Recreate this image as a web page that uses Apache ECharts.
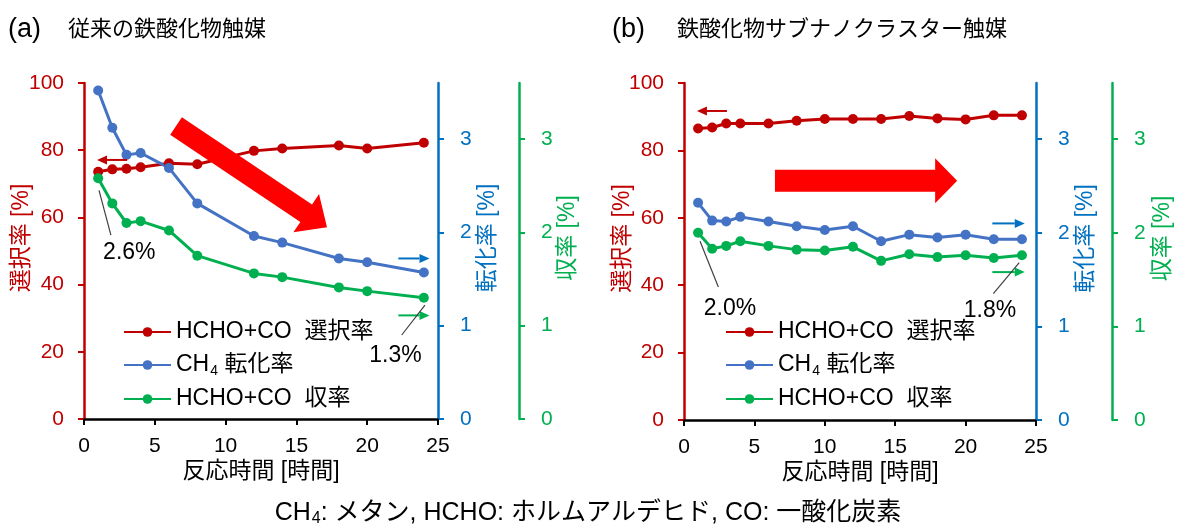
<!DOCTYPE html>
<html><head><meta charset="utf-8">
<script src="https://cdn.jsdelivr.net/npm/echarts@6/dist/echarts.min.js"></script>
<style>html,body{margin:0;padding:0;background:#fff}#c{width:1177px;height:530px}</style>
</head><body><div id="c"></div>
<script>
// ---- data ----
const timesA = [1, 2, 3, 4, 6, 8, 12, 14, 18, 20, 24];
const selectivityA = [73.6, 74.3, 74.5, 74.9, 76.1, 75.8, 79.8, 80.5, 81.4, 80.5, 82.2];
const conversionA = [3.52, 3.12, 2.83, 2.85, 2.69, 2.31, 1.96, 1.89, 1.72, 1.68, 1.57];
const yieldA = [2.58, 2.31, 2.10, 2.12, 2.02, 1.75, 1.56, 1.52, 1.41, 1.37, 1.30];

const timesB = [1, 2, 3, 4, 6, 8, 10, 12, 14, 16, 18, 20, 22, 24];
const selectivityB = [86.5, 86.8, 88.0, 88.0, 88.0, 88.8, 89.3, 89.3, 89.3, 90.2, 89.5, 89.2, 90.4, 90.4];
const conversionB = [2.32, 2.13, 2.12, 2.17, 2.12, 2.07, 2.03, 2.07, 1.91, 1.98, 1.95, 1.98, 1.93, 1.93];
const yieldB = [2.00, 1.83, 1.86, 1.91, 1.86, 1.82, 1.81, 1.85, 1.70, 1.77, 1.74, 1.76, 1.73, 1.76];

const rightTicks = [0, 1, 2, 3];
const seriesNames = ['HCHO+CO  選択率', 'CH4 転化率', 'HCHO+CO  収率'];
const titleA = ['(a)', '従来の鉄酸化物触媒'];
const titleB = ['(b)', '鉄酸化物サブナノクラスター触媒'];
const xName = '反応時間 [時間]';
const axisNames = ['選択率 [%]', '転化率 [%]', '収率 [%]'];
const labelsA = ['2.6%', '1.3%'];
const labelsB = ['2.0%', '1.8%'];

// ---- style ----
const RED = '#C00000', BLUE_AX = '#0070C0', BLUE = '#4472C4', GREEN = '#00B050', ARROW = '#FF0000';
const FF = '"Liberation Sans", Arial, "Noto Sans CJK JP", sans-serif';

const pairs = (xs, ys) => xs.map((x, i) => [x, ys[i]]);

function xAxis(g) {
  return {
    type: 'value', gridIndex: g, min: 0, max: 25, interval: 5,
    name: xName, nameLocation: 'middle', nameGap: 41, nameMoveOverlap: false,
    nameTextStyle: { color: '#000', fontSize: 23, fontFamily: FF },
    axisLine: { show: true, lineStyle: { color: '#000', width: 2.5 } },
    axisTick: { show: true, length: 6, lineStyle: { color: '#000', width: 2 } },
    axisLabel: { color: '#000', fontSize: 21, fontFamily: FF, margin: 17 },
    splitLine: { show: false }
  };
}
function yAxes(g, gaps, greenOffset) {
  const base = (color, name, gap) => ({
    type: 'value', gridIndex: g, name: name, nameLocation: 'middle', nameGap: gap, nameRotate: 90,
    nameMoveOverlap: false,
    nameTextStyle: { color: color, fontSize: 23, fontFamily: FF, padding: [0, 0, 0, 26] },
    axisLine: { show: true, lineStyle: { color: color, width: 2.5 } },
    axisTick: { show: true, length: 6, lineStyle: { color: color, width: 2 } },
    axisLabel: { color: color, fontSize: 21, fontFamily: FF },
    splitLine: { show: false }
  });
  const red = base(RED, axisNames[0], gaps[0]);
  Object.assign(red, { position: 'left', min: 0, max: 100, interval: 20 });
  red.axisLabel.margin = 20;
  const blue = base(BLUE_AX, axisNames[1], gaps[1]);
  Object.assign(blue, { position: 'right', offset: 0, min: 0, max: 3.6, interval: 1 });
  blue.axisLabel.margin = 22; blue.axisLabel.customValues = rightTicks; blue.axisTick.customValues = rightTicks;
  const green = base(GREEN, axisNames[2], gaps[2]);
  Object.assign(green, { position: 'right', offset: greenOffset, min: 0, max: 3.6, interval: 1 });
  green.axisLabel.margin = 22; green.axisLabel.customValues = rightTicks; green.axisTick.customValues = rightTicks;
  return [red, blue, green];
}
function lineSeries(name, g, yi, data, color) {
  return {
    type: 'line', name: name, xAxisIndex: g, yAxisIndex: yi, data: data,
    symbol: 'circle', symbolSize: 10, showSymbol: true,
    lineStyle: { color: color, width: 3 }, itemStyle: { color: color },
    emphasis: { disabled: true }, animation: false
  };
}
function legend(left) {
  return {
    left: left, top: 320, orient: 'vertical', padding: 0, itemWidth: 47, itemHeight: 12, itemGap: 9,
    data: seriesNames, selectedMode: false,
    formatter: n => n.startsWith('CH4') ? '{a|CH}{s|4}{a|' + n.slice(3) + '}' : '{a|' + n + '}',
    textStyle: {
      color: '#000', fontSize: 23, fontFamily: FF, lineHeight: 24,
      rich: { a: { fontSize: 23, fontFamily: FF, color: '#000' }, s: { fontSize: 14, fontFamily: FF, color: '#000', padding: [12, 0, 0, 1] } }
    }
  };
}

const chart = echarts.init(document.getElementById('c'), null, { renderer: 'canvas' });
chart.setOption({
  backgroundColor: '#fff',
  animation: false,
  grid: [
    { left: 84, top: 83, width: 354, height: 336 },
    { left: 684, top: 83, width: 352, height: 337 }
  ],
  xAxis: [xAxis(0), xAxis(1)],
  yAxis: yAxes(0, [51, 38, 37], 81).concat(yAxes(1, [50, 38, 39], 76)),
  legend: [legend(123), legend(725)],
  series: [
    lineSeries(seriesNames[0], 0, 0, pairs(timesA, selectivityA), RED),
    lineSeries(seriesNames[1], 0, 1, pairs(timesA, conversionA), BLUE),
    lineSeries(seriesNames[2], 0, 2, pairs(timesA, yieldA), GREEN),
    lineSeries(seriesNames[0], 1, 3, pairs(timesB, selectivityB), RED),
    lineSeries(seriesNames[1], 1, 4, pairs(timesB, conversionB), BLUE),
    lineSeries(seriesNames[2], 1, 5, pairs(timesB, yieldB), GREEN)
  ]
});

// ---- annotations positioned in data coordinates ----
function P(g, axis, x, y) { return chart.convertToPixel({ xAxisIndex: g, yAxisIndex: g * 3 + axis }, [x, y]); }
function bigArrow(T, H, sw, hw, hl) {
  const dx = H[0] - T[0], dy = H[1] - T[1], L = Math.hypot(dx, dy);
  const d = [dx / L, dy / L], n = [-d[1], d[0]];
  const B = [H[0] - d[0] * hl, H[1] - d[1] * hl];
  const pt = (o, k) => [o[0] + n[0] * k, o[1] + n[1] * k];
  return { type: 'polygon', z: 100, shape: { points: [pt(T, sw / 2), pt(B, sw / 2), pt(B, hw / 2), H, pt(B, -hw / 2), pt(B, -sw / 2), pt(T, -sw / 2)] }, style: { fill: ARROW } };
}
function smallArrow(S, E, color) {
  const dx = E[0] - S[0], dy = E[1] - S[1], L = Math.hypot(dx, dy);
  const d = [dx / L, dy / L], n = [-d[1], d[0]];
  const hl = 10, hw = 9;
  const B = [E[0] - d[0] * hl, E[1] - d[1] * hl];
  return [
    { type: 'line', z: 100, shape: { x1: S[0], y1: S[1], x2: B[0], y2: B[1] }, style: { stroke: color, lineWidth: 2 } },
    { type: 'polygon', z: 100, shape: { points: [E, [B[0] + n[0] * hw / 2, B[1] + n[1] * hw / 2], [B[0] - n[0] * hw / 2, B[1] - n[1] * hw / 2]] }, style: { fill: color } }
  ];
}
function leader(A, B) { return { type: 'line', z: 100, shape: { x1: A[0], y1: A[1], x2: B[0], y2: B[1] }, style: { stroke: '#404040', lineWidth: 1.2 } }; }
function txt(p, s, size, align) {
  return { type: 'text', z: 100, x: p[0], y: p[1], style: { text: s, fontSize: size || 23, fontFamily: FF, fill: '#000', align: align || 'center', verticalAlign: 'middle' } };
}

const g = [];
// panel (a)
g.push(bigArrow(P(0, 0, 6.5, 87.2), P(0, 0, 17.16, 57.1), 21, 46, 25));
g.push(...smallArrow(P(0, 0, 3.05, 77.1), P(0, 0, 0.92, 77.1), RED));
g.push(...smallArrow(P(0, 1, 22.2, 1.72), P(0, 1, 24.4, 1.72), BLUE_AX));
g.push(...smallArrow(P(0, 2, 22.2, 1.11), P(0, 2, 24.4, 1.11), GREEN));
g.push(leader(P(0, 2, 1.06, 2.45), P(0, 2, 1.9, 1.97)));
g.push(txt(P(0, 2, 3.2, 1.78), labelsA[0]));
g.push(leader(P(0, 2, 24.08, 1.22), P(0, 2, 22.44, 0.90)));
g.push(txt(P(0, 2, 22.0, 0.68), labelsA[1]));
// panel (b)
g.push(bigArrow(P(1, 0, 6.46, 71.0), P(1, 0, 19.4, 71.0), 22, 45, 22));
g.push(...smallArrow(P(1, 0, 3.05, 91.7), P(1, 0, 0.92, 91.7), RED));
g.push(...smallArrow(P(1, 1, 21.9, 2.10), P(1, 1, 24.2, 2.10), BLUE_AX));
g.push(...smallArrow(P(1, 2, 21.9, 1.58), P(1, 2, 24.2, 1.58), GREEN));
g.push(leader(P(1, 2, 1.14, 1.91), P(1, 2, 2.44, 1.42)));
g.push(txt(P(1, 2, 3.27, 1.19), labelsB[0]));
g.push(leader(P(1, 2, 23.81, 1.68), P(1, 2, 21.97, 1.35)));
g.push(txt(P(1, 2, 21.73, 1.17), labelsB[1]));
// titles
g.push(txt([8, 30], titleA[0], 27, 'left'));
g.push(txt([68, 30], titleA[1], 22, 'left'));
g.push(txt([612, 30], titleB[0], 27, 'left'));
g.push(txt([677, 30], titleB[1], 22, 'left'));
// footnote
g.push({
  type: 'text', z: 100, x: 588, y: 513,
  style: {
    text: '{a|CH}{s|4}{a|: メタン, HCHO: ホルムアルデヒド, CO: 一酸化炭素}', align: 'center', verticalAlign: 'middle',
    rich: { a: { fontSize: 25, fontFamily: FF, fill: '#000' }, s: { fontSize: 16, fontFamily: FF, fill: '#000', padding: [12, 0, 0, 1] } }
  }
});
chart.setOption({ graphic: g });
</script>
</body></html>
